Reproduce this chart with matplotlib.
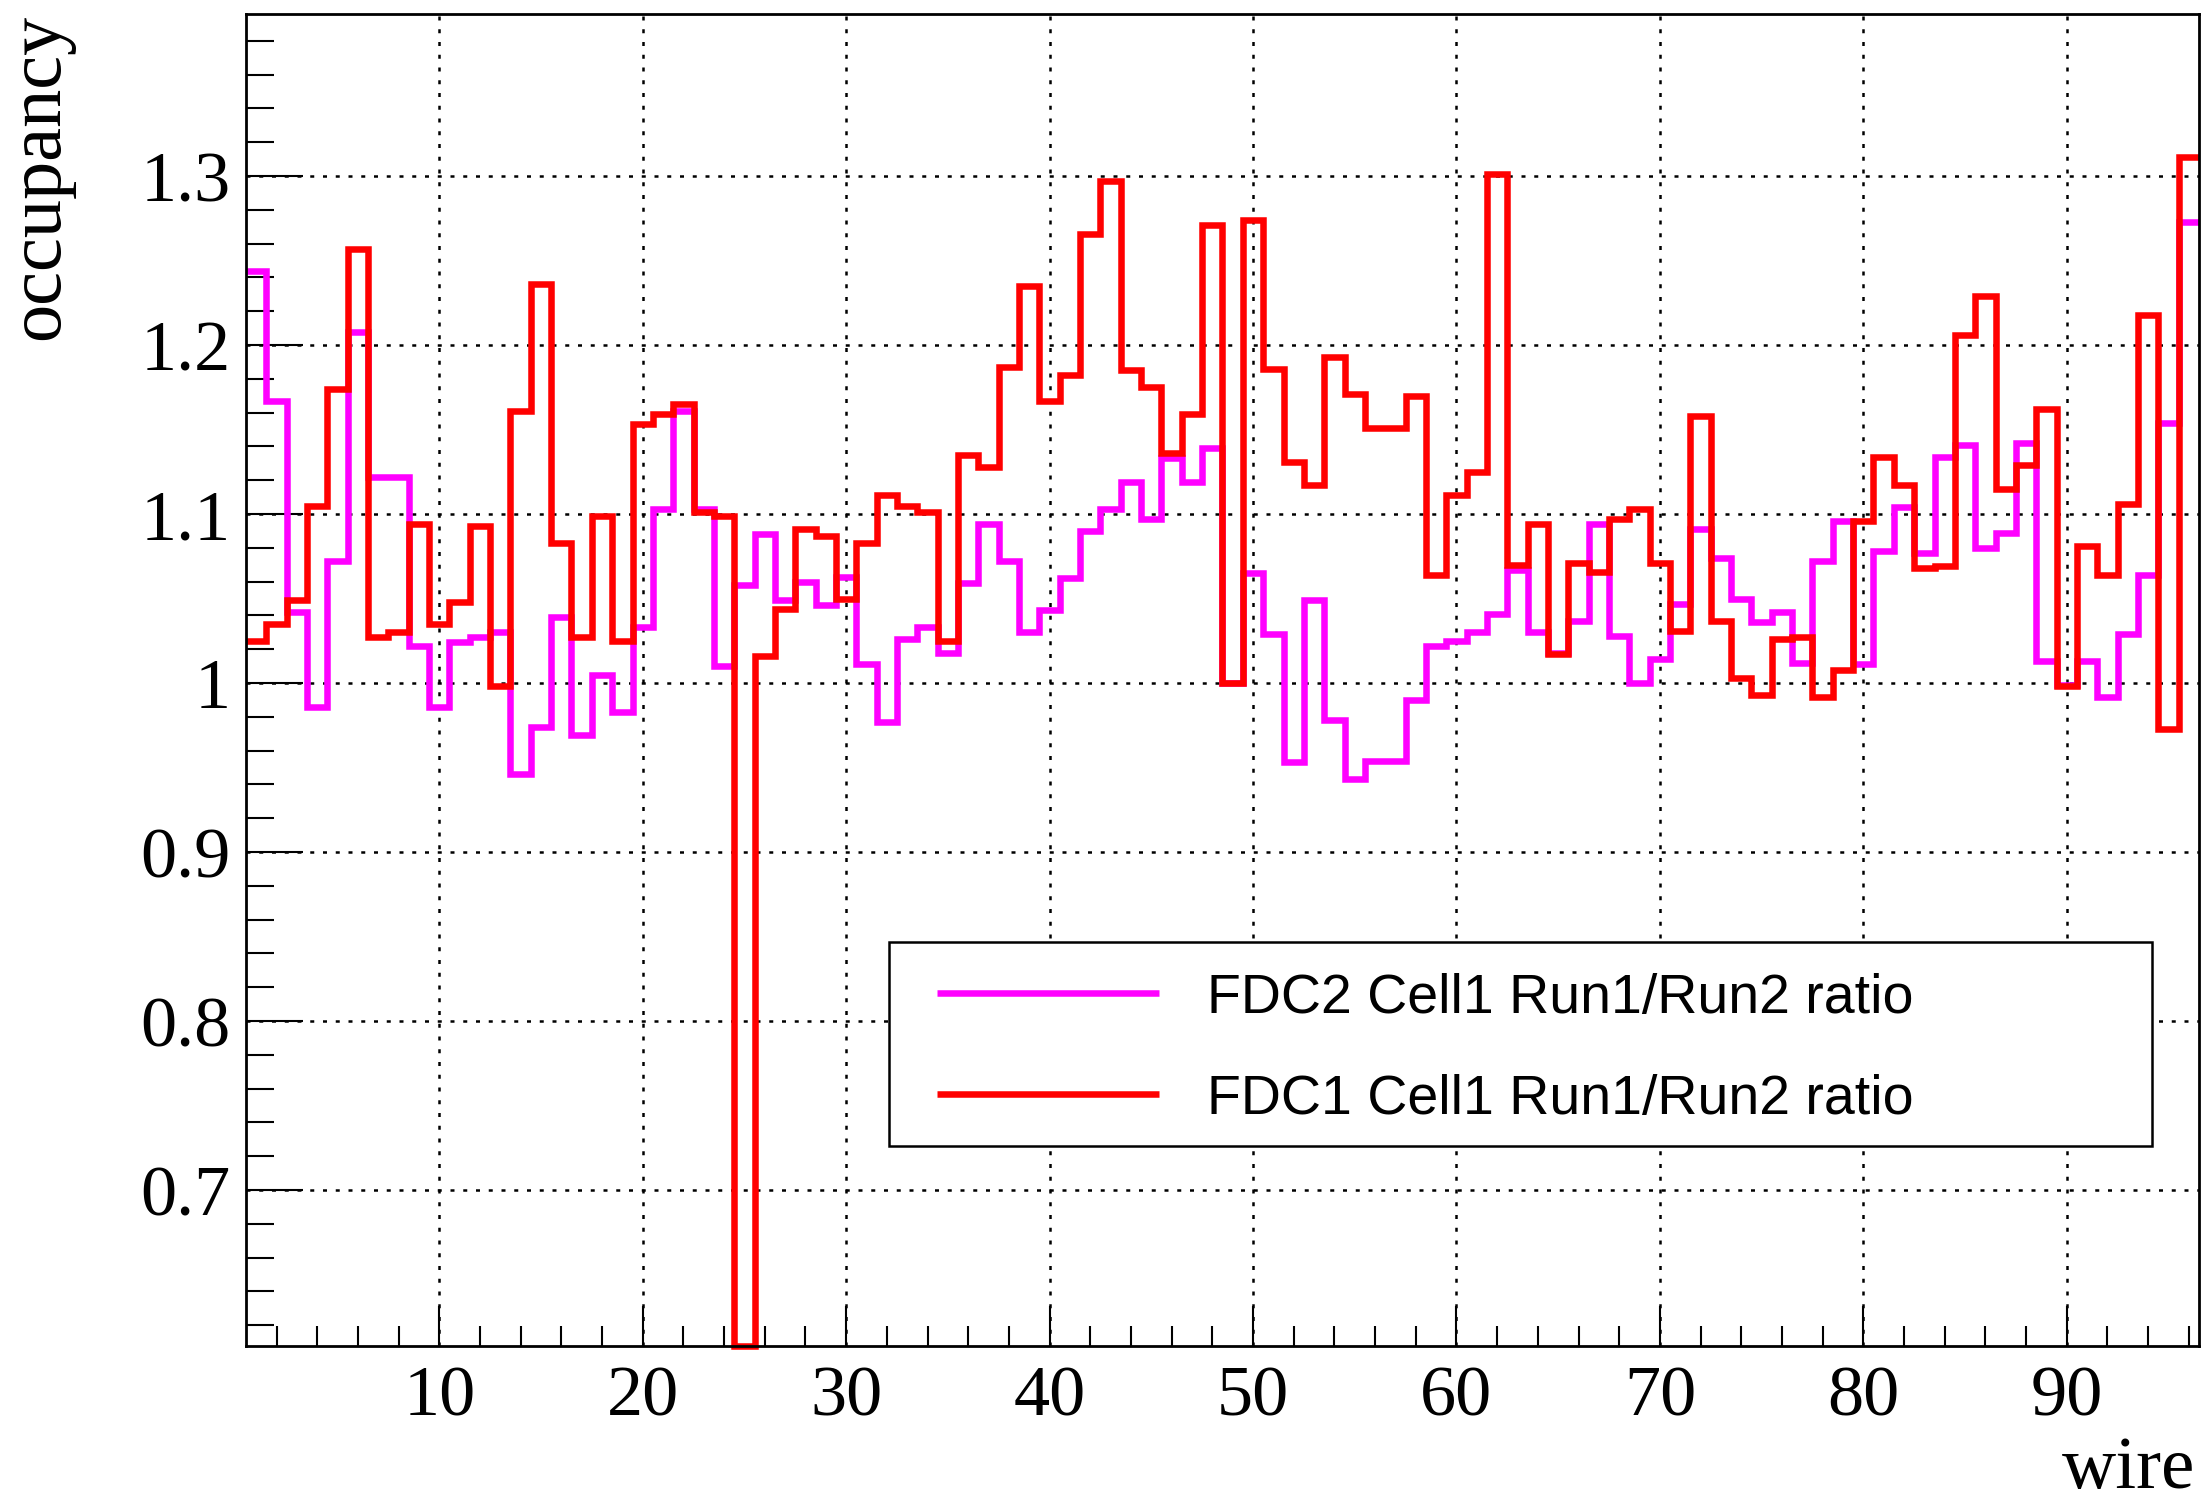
import numpy as np
import matplotlib
matplotlib.use("Agg")
import matplotlib.pyplot as plt
from matplotlib.ticker import MultipleLocator, FuncFormatter
from matplotlib.patches import Rectangle

# wire bins 1..96
wire_edges = np.arange(0.5, 97.0, 1.0)

# FDC2 Cell1 Run1/Run2 ratio (magenta)
fdc2_ratio = [
    1.244, 1.167, 1.042, 0.986, 1.072, 1.208, 1.122, 1.122, 1.022, 0.986,
    1.024, 1.027, 1.030, 0.946, 0.974, 1.039, 0.969, 1.005, 0.983, 1.033,
    1.103, 1.161, 1.103, 1.010, 1.058, 1.088, 1.049, 1.060, 1.046, 1.063,
    1.011, 0.977, 1.026, 1.033, 1.018, 1.059, 1.094, 1.072, 1.030, 1.043,
    1.062, 1.090, 1.103, 1.119, 1.097, 1.133, 1.119, 1.139, 1.000, 1.065,
    1.029, 0.953, 1.049, 0.978, 0.943, 0.954, 0.954, 0.990, 1.022, 1.025,
    1.030, 1.041, 1.067, 1.030, 1.018, 1.037, 1.094, 1.028, 1.000, 1.014,
    1.047, 1.091, 1.074, 1.050, 1.036, 1.042, 1.012, 1.072, 1.096, 1.011,
    1.078, 1.104, 1.077, 1.134, 1.141, 1.080, 1.089, 1.142, 1.013, 0.999,
    1.013, 0.992, 1.029, 1.064, 1.154, 1.273,
]

# FDC1 Cell1 Run1/Run2 ratio (red); wire 25 sits on the frame bottom
fdc1_ratio = [
    1.025, 1.035, 1.049, 1.105, 1.174, 1.257, 1.027, 1.030, 1.094, 1.035,
    1.048, 1.093, 0.998, 1.161, 1.236, 1.083, 1.027, 1.099, 1.025, 1.153,
    1.159, 1.165, 1.101, 1.099, 0.608, 1.016, 1.044, 1.091, 1.087, 1.050,
    1.083, 1.111, 1.105, 1.101, 1.025, 1.135, 1.128, 1.187, 1.235, 1.167,
    1.182, 1.266, 1.297, 1.185, 1.175, 1.136, 1.159, 1.271, 1.000, 1.274,
    1.186, 1.131, 1.117, 1.193, 1.171, 1.151, 1.151, 1.170, 1.064, 1.111,
    1.125, 1.301, 1.070, 1.094, 1.017, 1.071, 1.066, 1.097, 1.103, 1.071,
    1.031, 1.158, 1.037, 1.003, 0.993, 1.026, 1.027, 0.992, 1.008, 1.096,
    1.134, 1.117, 1.068, 1.069, 1.206, 1.229, 1.115, 1.129, 1.162, 0.998,
    1.081, 1.064, 1.106, 1.218, 0.973, 1.311,
]

labels = ["FDC2 Cell1 Run1/Run2 ratio", "FDC1 Cell1 Run1/Run2 ratio"]
colors = ["#ff00ff", "#ff0000"]

serif = "Liberation Serif"
sans = "Liberation Sans"

fig = plt.figure(figsize=(22.08, 15.05), dpi=100)
ax = fig.add_axes([0.11141, 0.10585, 0.88451, 0.88485])

ax.stairs(fdc2_ratio, wire_edges, baseline=None, color=colors[0],
          linewidth=4.7, zorder=3)
ax.stairs(fdc1_ratio, wire_edges, baseline=None, color=colors[1],
          linewidth=4.7, zorder=4, clip_on=False)

ax.set_xlim(0.5, 96.5)
ax.set_ylim(0.6079, 1.3959)

ax.xaxis.set_major_locator(MultipleLocator(10))
ax.xaxis.set_minor_locator(MultipleLocator(2))
ax.yaxis.set_major_locator(MultipleLocator(0.1))
ax.yaxis.set_minor_locator(MultipleLocator(0.02))
ax.yaxis.set_major_formatter(FuncFormatter(lambda v, p: f"{v:g}"))

ax.tick_params(axis="both", which="both", direction="in", top=False,
               right=False, width=1.5, colors="black")
ax.tick_params(axis="y", which="major", length=41, pad=11)
ax.tick_params(axis="y", which="minor", length=20.5)
ax.tick_params(axis="x", which="major", length=29, pad=14)
ax.tick_params(axis="x", which="minor", length=14.4)
for lab in ax.get_xticklabels() + ax.get_yticklabels():
    lab.set_fontfamily(serif)
    lab.set_fontsize(52)

for sp in ax.spines.values():
    sp.set_linewidth(2)
    sp.set_zorder(6)

ax.grid(True, which="major", color="black", linestyle=(0, (1.6, 3.5)),
        linewidth=1.8, zorder=1)

# legend box (ROOT TLegend style)
ax.add_patch(Rectangle((0.3290, 0.1502), 0.6469, 0.1532,
                       transform=ax.transAxes, facecolor="white",
                       edgecolor="black", linewidth=1.8, zorder=7))
for yy, lab, col in zip([0.2651, 0.1890], labels, colors):
    ax.plot([0.3538, 0.4675], [yy, yy], color=col, linewidth=4.7,
            transform=ax.transAxes, zorder=8, solid_capstyle="butt")
    ax.text(0.4921, yy, lab, transform=ax.transAxes, fontsize=40,
            family=sans, va="center_baseline", ha="left", zorder=8)

fig.text(0.0181, 0.9907, "occupancy", rotation=90, fontsize=55,
         family=serif, ha="center", va="top")
fig.text(0.9941, 0.0110, "wire", fontsize=54, family=serif,
         ha="right", va="baseline")

fig.savefig("out.png", dpi=100)
